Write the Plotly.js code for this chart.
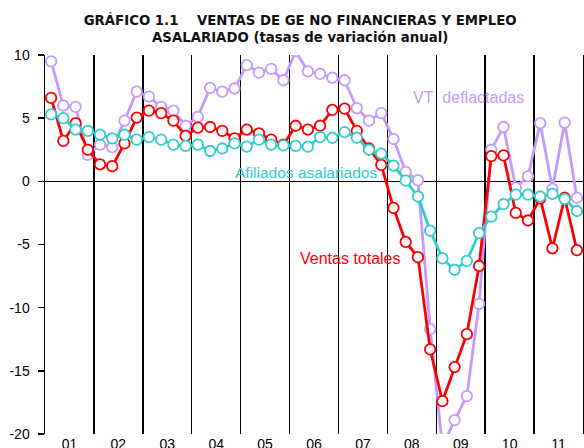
<!DOCTYPE html>
<html><head><meta charset="utf-8">
<script src="https://cdn.plot.ly/plotly-3.0.1.min.js"></script>
<style>html,body{margin:0;padding:0;background:#fff}</style>
</head><body><div id="chart" style="width:584px;height:448px"></div>
<script>
const yearLabels = ['01','02','03','04','05','06','07','08','09','10','11'];
const firstYear = 2001;
const yTickVals = [-20, -15, -10, -5, 0, 5, 10];
const yTickText = ['-20', '-15', '-10', '-5', '0', '5', '10'];
// Quarterly annual growth rates (%), 2001 Q1 .. 2011 Q4
const vtDeflactadas = [9.5,6.0,5.9,2.1, 2.9,2.7,4.8,7.1, 6.7,5.9,5.6,4.4, 5.1,7.4,7.1,7.35,
  9.2,8.6,8.9,8.0, 10.3,8.7,8.5,8.2, 8.0,5.8,4.8,5.4, 3.35,0.75,0.1,-11.7,
  -21.0,-18.9,-17.0,-9.7, 2.5,4.3,-0.5,0.4, 4.6,-0.6,4.65,-1.3];
const ventasTotales = [6.6,3.2,4.6,2.5, 1.35,1.2,3.0,5.05, 5.6,5.4,4.8,3.6, 4.25,4.3,4.0,3.4,
  4.1,3.8,3.3,2.9, 4.4,4.1,4.4,5.65, 5.75,4.0,2.6,1.3, -2.1,-4.8,-6.0,-13.3,
  -17.4,-14.7,-12.1,-6.7, 2.0,2.05,-2.5,-3.1, -1.35,-5.3,-1.3,-5.45];
const afiliadosAsalariados = [5.3,5.0,4.1,4.0, 3.7,3.4,3.7,3.3, 3.5,3.3,2.9,2.8, 2.9,2.4,2.6,3.0,
  2.75,3.3,2.9,2.85, 2.8,2.75,3.5,3.45, 3.9,3.45,2.5,2.2, 1.25,0.05,-1.2,-3.9,
  -6.1,-7.0,-6.3,-4.1, -2.8,-1.8,-1.05,-1.05, -1.2,-1.0,-1.4,-2.35];

const xPos = vtDeflactadas.map((_, i) => firstYear + (i + 0.5) / 4);
const yearMid = yearLabels.map((_, i) => firstYear + i + 0.5);
const yearBounds = yearLabels.map((_, i) => firstYear + i + 1);

const C_VT = '#C49AFF', C_VENT = '#FF0000', C_AF = '#33CCCC';
function tr(y, color, name) {
  return {x: xPos, y: y, type: 'scatter', mode: 'lines+markers', name: name,
    line: {color: color, width: 2.8},
    marker: {symbol: 'circle', size: 10.5, color: '#fff', line: {color: color, width: 1.8}},
    cliponaxis: true};
}
const traces = [
  tr(vtDeflactadas, C_VT, 'VT deflactadas'),
  tr(ventasTotales, C_VENT, 'Ventas totales'),
  tr(afiliadosAsalariados, C_AF, 'Afiliados asalariados')
];
const layout = {
  width: 584, height: 448,
  margin: {l: 45, r: 1, t: 55, b: 14, pad: 0},
  paper_bgcolor: '#fff', plot_bgcolor: '#fff',
  showlegend: false,
  title: {text: '<b>GRÁFICO 1.1\u00a0\u00a0\u00a0\u00a0VENTAS DE GE NO FINANCIERAS Y EMPLEO<br>ASALARIADO (tasas de variación anual)</b>',
    font: {family: 'DejaVu Sans', size: 13.3, color: '#111'},
    x: 0.514, xref: 'container', xanchor: 'center', y: 0.944, yref: 'container', yanchor: 'top'},
  xaxis: {range: [firstYear, firstYear + yearLabels.length], tickmode: 'array', tickvals: yearMid, ticktext: yearLabels,
    ticks: '', showgrid: false, zeroline: false, showline: false,
    tickfont: {family: 'Liberation Sans, Arial', size: 14, color: '#000'},
    minor: {tickmode: 'array', tickvals: yearBounds, showgrid: true, gridcolor: '#000', gridwidth: 1.5, ticks: ''}},
  yaxis: {range: [-20, 10], tickmode: 'array', tickvals: yTickVals, ticktext: yTickText, ticks: 'outside', ticklen: 6, tickwidth: 1.5, tickcolor: '#000',
    showline: true, linecolor: '#000', linewidth: 1.5, mirror: true, showgrid: false,
    zeroline: true, zerolinecolor: '#000', zerolinewidth: 1.5, ticklabelstandoff: 5,
    tickfont: {family: 'Liberation Sans, Arial', size: 14, color: '#000'}},
  annotations: [
    {text: 'VT\u00a0 deflactadas', x: 2009.65, y: 6.67, xref: 'x', yref: 'y', showarrow: false,
      font: {family: 'Liberation Sans, Arial', size: 16, color: C_VT}},
    {text: 'Afiliados asalariados', x: 2006.34, y: 0.7, xref: 'x', yref: 'y', showarrow: false,
      font: {family: 'Liberation Sans, Arial', size: 15.5, color: C_AF}},
    {text: 'Ventas totales', x: 2007.24, y: -6.1, xref: 'x', yref: 'y', showarrow: false,
      font: {family: 'Liberation Sans, Arial', size: 16, color: C_VENT}}
  ]
};
Plotly.newPlot('chart', traces, layout, {staticPlot: true, displayModeBar: false});
</script></body></html>
